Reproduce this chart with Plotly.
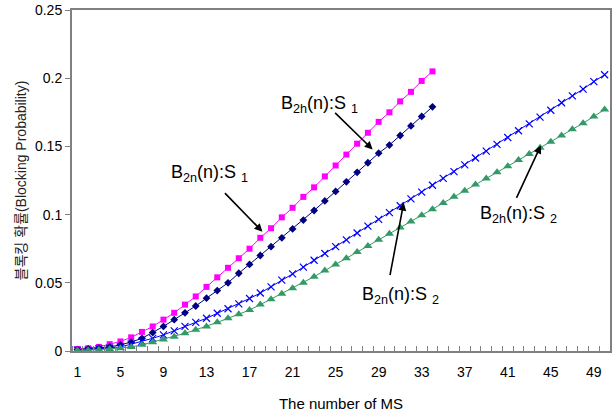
import plotly.graph_objects as go

# ---- data ----
x_s1 = list(range(1, 35))
x_s2 = list(range(1, 51))

b2n_s1 = [0.0015, 0.002, 0.003, 0.005, 0.007, 0.010, 0.014, 0.018, 0.023, 0.028,
          0.034, 0.040, 0.047, 0.054, 0.061, 0.068, 0.075, 0.083, 0.090, 0.098,
          0.105, 0.113, 0.120, 0.128, 0.136, 0.144, 0.152, 0.160, 0.168, 0.175,
          0.183, 0.190, 0.198, 0.205]

b2h_s1 = [0.001, 0.0015, 0.002, 0.003, 0.0045, 0.0065, 0.0093, 0.0135, 0.018, 0.023,
          0.028, 0.033, 0.0387, 0.0443, 0.050, 0.057, 0.0635, 0.070, 0.0765, 0.083,
          0.0895, 0.096, 0.103, 0.110, 0.117, 0.124, 0.131, 0.138, 0.145, 0.151,
          0.158, 0.165, 0.172, 0.179]

b2n_s2 = [0.0007, 0.0007, 0.0015, 0.002, 0.003, 0.005, 0.007, 0.0093, 0.0118, 0.0147,
          0.018, 0.021, 0.024, 0.0277, 0.031, 0.0345, 0.0385, 0.0425, 0.047, 0.052,
          0.0565, 0.0615, 0.0665, 0.0715, 0.0765, 0.0815, 0.0865, 0.0915, 0.0965, 0.1015,
          0.1065, 0.1115, 0.1165, 0.1215, 0.1265, 0.1315, 0.1365, 0.1415, 0.1465, 0.1515,
          0.1565, 0.1615, 0.1665, 0.1715, 0.1765, 0.182, 0.187, 0.192, 0.1975, 0.2025]

b2h_s2 = [0.0005, 0.0005, 0.001, 0.0015, 0.002, 0.003, 0.0045, 0.0065, 0.0085, 0.0105,
          0.013, 0.0155, 0.018, 0.021, 0.024, 0.027, 0.030, 0.034, 0.038, 0.042,
          0.046, 0.050, 0.0545, 0.059, 0.0635, 0.068, 0.0725, 0.077, 0.0815, 0.086,
          0.0905, 0.095, 0.0995, 0.104, 0.1085, 0.113, 0.1175, 0.122, 0.1265, 0.131,
          0.1355, 0.140, 0.1445, 0.149, 0.1535, 0.158, 0.1625, 0.167, 0.172, 0.177]

x_tick_labels = [1, 5, 9, 13, 17, 21, 25, 29, 33, 37, 41, 45, 49]
y_tick_vals = [0, 0.05, 0.1, 0.15, 0.2, 0.25]
y_tick_text = ["0", "0.05", "0.1", "0.15", "0.2", "0.25"]

FONT = "Liberation Sans, Arial, Noto Sans CJK KR, sans-serif"

fig = go.Figure()
fig.add_trace(go.Scatter(x=x_s1, y=b2n_s1, mode="lines+markers",
                         line=dict(color="#FF00FF", width=1),
                         marker=dict(symbol="square", size=6, color="#FF00FF")))
fig.add_trace(go.Scatter(x=x_s1, y=b2h_s1, mode="lines+markers",
                         line=dict(color="#000080", width=1),
                         marker=dict(symbol="diamond", size=6, color="#000080")))
fig.add_trace(go.Scatter(x=x_s2, y=b2n_s2, mode="lines+markers",
                         line=dict(color="#0000FF", width=1),
                         marker=dict(symbol="x-thin", size=7,
                                     line=dict(color="#0000FF", width=1.2))))
fig.add_trace(go.Scatter(x=x_s2, y=b2h_s2, mode="lines+markers",
                         line=dict(color="#339966", width=1),
                         marker=dict(symbol="triangle-up", size=8, color="#339966")))

arrow = dict(showarrow=True, arrowhead=2, arrowsize=1, arrowwidth=1.6,
             arrowcolor="black", xref="x", yref="y")
text_style = dict(showarrow=False, xref="x", yref="y",
                  font=dict(family=FONT, size=18, color="black"))

annotations = [
    # arrows (tip at data location, tail offset in px)
    dict(x=28.44, y=0.1478, ax=-39, ay=-38, text="", **arrow),
    dict(x=18.2, y=0.0875, ax=-39, ay=-40, text="", **arrow),
    dict(x=31.33, y=0.1088, ax=-14, ay=74, text="", **arrow),
    dict(x=44.07, y=0.1507, ax=-25, ay=54, text="", **arrow),
    # labels
    dict(x=23.51, y=0.1809, text="B<sub>2h</sub>(n):S <sub>1</sub>", **text_style),
    dict(x=13.28, y=0.1300, text="B<sub>2n</sub>(n):S <sub>1</sub>", **text_style),
    dict(x=31.05, y=0.0404, text="B<sub>2n</sub>(n):S <sub>2</sub>", **text_style),
    dict(x=42.02, y=0.1000, text="B<sub>2h</sub>(n):S <sub>2</sub>", **text_style),
]

fig.update_layout(
    width=615, height=413,
    margin=dict(l=72, r=5, t=10, b=62),
    paper_bgcolor="white", plot_bgcolor="white",
    showlegend=False,
    font=dict(family=FONT, size=14, color="black"),
    annotations=annotations,
)
fig.update_xaxes(
    automargin=False,
    range=[0.5, 50.5], tickmode="array", tickvals=x_tick_labels,
    ticktext=[str(v) for v in x_tick_labels],
    ticks="outside", ticklen=0, ticklabelstandoff=7,
    minor=dict(tickmode="linear", tick0=0.5, dtick=1, ticks="inside",
               ticklen=5, tickcolor="#808080", tickwidth=1),
    showgrid=False, zeroline=False,
    showline=True, linecolor="#808080", linewidth=2, mirror=True,
    tickfont=dict(family=FONT, size=14, color="black"),
    title=dict(text="The number of MS", standoff=20,
               font=dict(family=FONT, size=15, color="black")),
)
fig.update_yaxes(
    automargin=False,
    range=[0, 0.25], tickmode="array", tickvals=y_tick_vals, ticktext=y_tick_text,
    ticks="outside", ticklen=5, tickcolor="#808080", tickwidth=1,
    showgrid=False, zeroline=False,
    showline=True, linecolor="#808080", linewidth=2, mirror=True,
    tickfont=dict(family=FONT, size=14, color="black"),
    title=dict(text="블록킹 확률(Blocking Probability)", standoff=5,
               font=dict(family=FONT, size=14, color="#222222")),
)

fig.write_html("out.html", config={"displayModeBar": False},
               post_script="document.body.style.margin='0';document.body.style.overflow='hidden';")
